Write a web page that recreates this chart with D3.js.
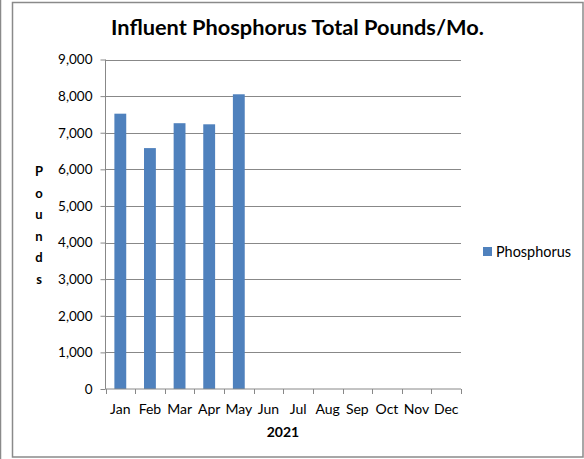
<!DOCTYPE html>
<html>
<head>
<meta charset="utf-8">
<script src="https://cdn.jsdelivr.net/npm/d3@7"></script>
<style>
  html, body { margin: 0; padding: 0; background: #fff; }
  svg { display: block; font-family: Lato, "Open Sans", sans-serif; }
</style>
</head>
<body>
<svg id="chart" width="584" height="459"></svg>
<script>
const months = ["Jan","Feb","Mar","Apr","May","Jun","Jul","Aug","Sep","Oct","Nov","Dec"];
const phosphorus = [7520, 6580, 7260, 7230, 8050, null, null, null, null, null, null, null];
const yTicks = [0,1000,2000,3000,4000,5000,6000,7000,8000,9000];
const titleText = "Influent Phosphorus Total Pounds/Mo.";
const xTitle = "2021";
const yTitle = "Pounds";
const seriesName = "Phosphorus";

(function() {
const svg = d3.select("#chart");
const barColor = "#4F81BD";
const gridColor = "#888888";

// outer frames
svg.append("line").attr("x1",0.5).attr("x2",0.5).attr("y1",0).attr("y2",459)
  .attr("stroke","#8a8a8a").attr("stroke-width",1.5);
svg.append("rect").attr("x",12.5).attr("y",2.5).attr("width",570.5).attr("height",454.5)
  .attr("fill","none").attr("stroke","#8a8a8a").attr("stroke-width",1.5);

const pLeft = 105.5, pRight = 461, pTop = 59.5, pBottom = 389;
const x = d3.scaleBand().domain(months).range([pLeft, pRight]).paddingInner(0).paddingOuter(0);
const y = d3.scaleLinear().domain([0, 9000]).range([pBottom, pTop]);

// gridlines
svg.append("g").selectAll("line").data(yTicks.filter(d => d > 0)).join("line")
  .attr("x1", pLeft).attr("x2", pRight)
  .attr("y1", d => Math.round(y(d)) + 0.5).attr("y2", d => Math.round(y(d)) + 0.5)
  .attr("stroke", gridColor).attr("stroke-width", 1);

// bars
const bw = x.bandwidth() * 0.4;
svg.append("g").selectAll("rect").data(months.map((m,i)=>({m, v: phosphorus[i]})).filter(d => d.v != null)).join("rect")
  .attr("x", d => x(d.m) + (x.bandwidth() - bw) / 2)
  .attr("width", bw)
  .attr("y", d => y(d.v))
  .attr("height", d => y(0) - y(d.v))
  .attr("fill", barColor);

// y axis
const yAxis = d3.axisLeft(y).tickValues(yTicks).tickSize(5).tickPadding(8)
  .tickFormat(d3.format(","));
const gy = svg.append("g").attr("transform", `translate(${pLeft},0)`).call(yAxis);
gy.select(".domain").attr("stroke", gridColor).attr("d", `M0,${pTop}V${pBottom}`);
gy.selectAll(".tick line").attr("stroke", gridColor);
gy.selectAll(".tick text").attr("font-size", 13.5).attr("fill", "#000").attr("font-family", "Lato, sans-serif");

// x axis
const xAxis = d3.axisBottom(x).tickSize(0).tickPadding(0);
const gx = svg.append("g").attr("transform", `translate(0,${pBottom})`).call(xAxis);
gx.select(".domain").attr("stroke", gridColor).attr("d", `M${pLeft},0H${pRight}`);
gx.selectAll(".tick text").attr("font-size", 14).attr("fill", "#000").attr("dy", null).attr("y", 25)
  .attr("font-family", "Lato, sans-serif");
const bounds = months.map(m => x(m)).concat([pRight]);
svg.append("g").selectAll("line").data(bounds).join("line")
  .attr("x1", d => Math.round(d) + 0.5).attr("x2", d => Math.round(d) + 0.5)
  .attr("y1", pBottom).attr("y2", pBottom + 5)
  .attr("stroke", gridColor);

// title
const t = svg.append("text").attr("x", 297.5).attr("y", 35).attr("text-anchor","middle")
  .attr("font-weight","bold").attr("font-size", 20).attr("fill","#000").text(titleText);
const tw = t.node().getComputedTextLength();
t.attr("font-size", 20 * 373 / tw);

// x title
svg.append("text").attr("x", 283).attr("y", 437).attr("text-anchor","middle")
  .attr("font-weight","bold").attr("font-size", 14).attr("fill","#000").text(xTitle);

// y title stacked letters
svg.append("g").selectAll("text").data(yTitle.split("")).join("text")
  .attr("x", 39).attr("y", (d,i) => 176 + i * 21.6)
  .attr("text-anchor","middle").attr("font-weight","bold").attr("font-size", 13).attr("fill","#000")
  .text(d => d);

// legend
svg.append("rect").attr("x", 483).attr("y", 247).attr("width", 9).attr("height", 9).attr("fill", barColor);
const lt = svg.append("text").attr("x", 496).attr("y", 256.5).attr("font-size", 14).attr("fill","#000").text(seriesName);
const lw = lt.node().getComputedTextLength();
lt.attr("font-size", 14 * 75 / lw);
})();
</script>
</body>
</html>
